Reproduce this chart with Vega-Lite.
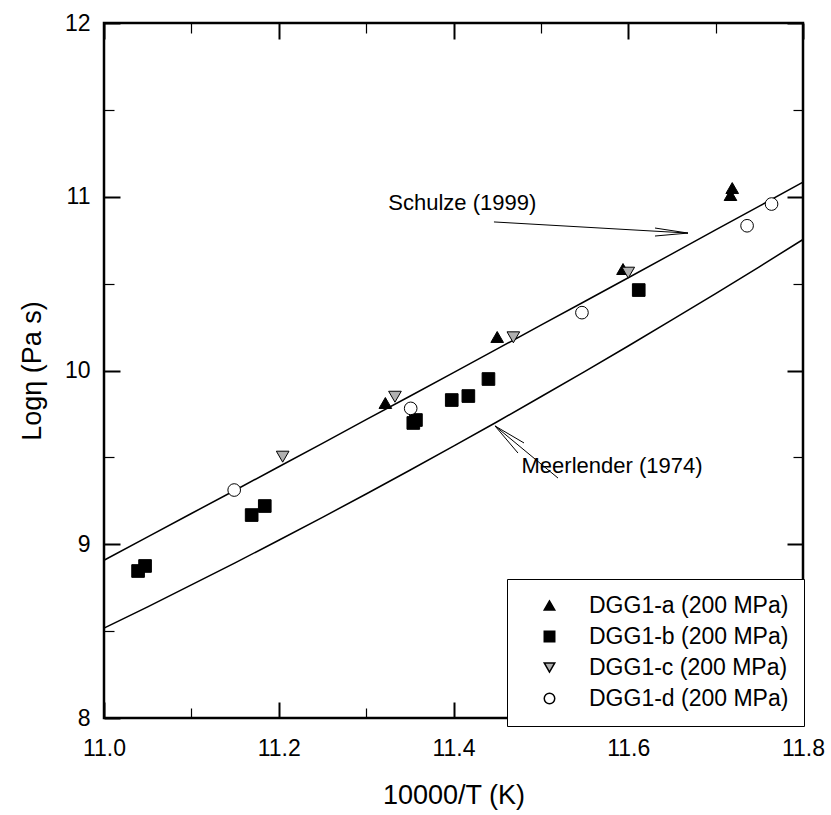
{
  "$schema": "https://vega.github.io/schema/vega-lite/v6.json",
  "width": 699,
  "height": 695,
  "autosize": {"type": "none"},
  "padding": {"left": 104, "top": 23, "right": 28, "bottom": 97},
  "background": "white",
  "config": {
    "view": {"stroke": "black", "strokeWidth": 2.5},
    "font": "Liberation Sans",
    "axis": {
      "grid": false,
      "domain": false,
      "tickColor": "black",
      "labelColor": "black",
      "titleColor": "black",
      "labelFont": "Liberation Sans",
      "titleFont": "Liberation Sans",
      "labelFontSize": 23,
      "titleFontSize": 27,
      "titleFontWeight": "normal",
      "labelFlush": false,
      "labelOverlap": false
    },
    "legend": {
      "orient": "none",
      "legendX": 403,
      "legendY": 556,
      "strokeColor": "black",
      "fillColor": "white",
      "padding": 15,
      "symbolOffset": 16,
      "labelOffset": 28,
      "labelFont": "Liberation Sans",
      "labelFontSize": 23,
      "labelColor": "black",
      "labelLimit": 400,
      "rowPadding": 7,
      "symbolSize": 110
    }
  },
  "datasets": {
    "curves": [
      {"x": 11.0, "y": 8.908, "curve": "Schulze"},
      {"x": 11.05, "y": 9.042, "curve": "Schulze"},
      {"x": 11.1, "y": 9.177, "curve": "Schulze"},
      {"x": 11.15, "y": 9.311, "curve": "Schulze"},
      {"x": 11.2, "y": 9.446, "curve": "Schulze"},
      {"x": 11.25, "y": 9.581, "curve": "Schulze"},
      {"x": 11.3, "y": 9.717, "curve": "Schulze"},
      {"x": 11.35, "y": 9.852, "curve": "Schulze"},
      {"x": 11.4, "y": 9.988, "curve": "Schulze"},
      {"x": 11.45, "y": 10.124, "curve": "Schulze"},
      {"x": 11.5, "y": 10.261, "curve": "Schulze"},
      {"x": 11.55, "y": 10.397, "curve": "Schulze"},
      {"x": 11.6, "y": 10.534, "curve": "Schulze"},
      {"x": 11.65, "y": 10.671, "curve": "Schulze"},
      {"x": 11.7, "y": 10.809, "curve": "Schulze"},
      {"x": 11.75, "y": 10.946, "curve": "Schulze"},
      {"x": 11.8, "y": 11.084, "curve": "Schulze"},
      {"x": 11.0, "y": 8.517, "curve": "Meerlender"},
      {"x": 11.05, "y": 8.640, "curve": "Meerlender"},
      {"x": 11.1, "y": 8.766, "curve": "Meerlender"},
      {"x": 11.15, "y": 8.893, "curve": "Meerlender"},
      {"x": 11.2, "y": 9.023, "curve": "Meerlender"},
      {"x": 11.25, "y": 9.155, "curve": "Meerlender"},
      {"x": 11.3, "y": 9.289, "curve": "Meerlender"},
      {"x": 11.35, "y": 9.426, "curve": "Meerlender"},
      {"x": 11.4, "y": 9.565, "curve": "Meerlender"},
      {"x": 11.45, "y": 9.705, "curve": "Meerlender"},
      {"x": 11.5, "y": 9.849, "curve": "Meerlender"},
      {"x": 11.55, "y": 9.994, "curve": "Meerlender"},
      {"x": 11.6, "y": 10.141, "curve": "Meerlender"},
      {"x": 11.65, "y": 10.291, "curve": "Meerlender"},
      {"x": 11.7, "y": 10.443, "curve": "Meerlender"},
      {"x": 11.75, "y": 10.597, "curve": "Meerlender"},
      {"x": 11.8, "y": 10.754, "curve": "Meerlender"}
    ],
    "points": [
      {"x": 11.322, "y": 9.813, "series": "DGG1-a (200 MPa)"},
      {"x": 11.450, "y": 10.193, "series": "DGG1-a (200 MPa)"},
      {"x": 11.594, "y": 10.584, "series": "DGG1-a (200 MPa)"},
      {"x": 11.717, "y": 11.01, "series": "DGG1-a (200 MPa)"},
      {"x": 11.719, "y": 11.05, "series": "DGG1-a (200 MPa)"},
      {"x": 11.039, "y": 8.846, "series": "DGG1-b (200 MPa)"},
      {"x": 11.047, "y": 8.875, "series": "DGG1-b (200 MPa)"},
      {"x": 11.169, "y": 9.168, "series": "DGG1-b (200 MPa)"},
      {"x": 11.184, "y": 9.220, "series": "DGG1-b (200 MPa)"},
      {"x": 11.354, "y": 9.698, "series": "DGG1-b (200 MPa)"},
      {"x": 11.357, "y": 9.715, "series": "DGG1-b (200 MPa)"},
      {"x": 11.398, "y": 9.830, "series": "DGG1-b (200 MPa)"},
      {"x": 11.417, "y": 9.853, "series": "DGG1-b (200 MPa)"},
      {"x": 11.440, "y": 9.951, "series": "DGG1-b (200 MPa)"},
      {"x": 11.612, "y": 10.463, "series": "DGG1-b (200 MPa)"},
      {"x": 11.2045, "y": 9.504, "series": "DGG1-c (200 MPa)"},
      {"x": 11.333, "y": 9.849, "series": "DGG1-c (200 MPa)"},
      {"x": 11.4685, "y": 10.191, "series": "DGG1-c (200 MPa)"},
      {"x": 11.600, "y": 10.563, "series": "DGG1-c (200 MPa)"},
      {"x": 11.149, "y": 9.312, "series": "DGG1-d (200 MPa)"},
      {"x": 11.351, "y": 9.782, "series": "DGG1-d (200 MPa)"},
      {"x": 11.547, "y": 10.333, "series": "DGG1-d (200 MPa)"},
      {"x": 11.736, "y": 10.833, "series": "DGG1-d (200 MPa)"},
      {"x": 11.764, "y": 10.958, "series": "DGG1-d (200 MPa)"}
    ],
    "arrows": [
      {"x": 11.4463, "y": 10.855, "x2": 11.6684, "y2": 10.791},
      {"x": 11.6306, "y": 10.820, "x2": 11.6684, "y2": 10.791},
      {"x": 11.6306, "y": 10.774, "x2": 11.6684, "y2": 10.791},
      {"x": 11.5196, "y": 9.381, "x2": 11.4475, "y2": 9.681},
      {"x": 11.4807, "y": 9.583, "x2": 11.4475, "y2": 9.681},
      {"x": 11.4738, "y": 9.525, "x2": 11.4475, "y2": 9.681}
    ],
    "labels": [
      {"x": 11.410, "y": 10.964, "text": "Schulze (1999)"},
      {"x": 11.5814, "y": 9.450, "text": "Meerlender (1974)"}
    ]
  },
  "resolve": {"axis": {"x": "independent", "y": "independent"}},
  "layer": [
    {
      "data": {"name": "curves"},
      "mark": {"type": "line", "color": "black", "strokeWidth": 1.5},
      "encoding": {
        "x": {"field": "x", "type": "quantitative",
              "scale": {"domain": [11.0, 11.8], "nice": false, "zero": false},
              "axis": {"orient": "bottom", "values": [11.0, 11.2, 11.4, 11.6, 11.8], "format": ".1f",
                       "tickSize": -16, "tickWidth": 2, "labelPadding": 35,
                       "title": "10000/T (K)", "titlePadding": 22}},
        "y": {"field": "y", "type": "quantitative",
              "scale": {"domain": [8, 12], "nice": false, "zero": false},
              "axis": {"orient": "left", "values": [8, 9, 10, 11, 12], "format": "d",
                       "tickSize": -16, "tickWidth": 2, "labelPadding": 30,
                       "title": "Logη (Pa s)", "titlePadding": 18}},
        "detail": {"field": "curve"}
      }
    },
    {
      "data": {"name": "arrows"},
      "mark": {"type": "rule", "color": "black", "strokeWidth": 1},
      "encoding": {
        "x": {"field": "x", "type": "quantitative",
              "axis": {"orient": "bottom", "values": [11.1, 11.3, 11.5, 11.7], "labels": false,
                       "tickSize": -10, "tickWidth": 1.2, "title": null}},
        "y": {"field": "y", "type": "quantitative",
              "axis": {"orient": "left", "values": [8.5, 9.5, 10.5, 11.5], "labels": false,
                       "tickSize": -10, "tickWidth": 1.2, "title": null}},
        "x2": {"field": "x2"},
        "y2": {"field": "y2"}
      }
    },
    {
      "data": {"name": "labels"},
      "mark": {"type": "text", "color": "black", "font": "Liberation Sans", "fontSize": 22, "align": "center", "baseline": "middle"},
      "encoding": {
        "x": {"field": "x", "type": "quantitative",
              "axis": {"orient": "top", "values": [11.0, 11.2, 11.4, 11.6, 11.8], "labels": false,
                       "tickSize": -16, "tickWidth": 2, "title": null}},
        "y": {"field": "y", "type": "quantitative",
              "axis": {"orient": "right", "values": [8, 9, 10, 11, 12], "labels": false,
                       "tickSize": -16, "tickWidth": 2, "title": null}},
        "text": {"field": "text"}
      }
    },
    {
      "data": {"name": "points"},
      "mark": {"type": "point", "filled": true, "stroke": "black", "strokeWidth": 1, "opacity": 1, "size": 160},
      "encoding": {
        "x": {"field": "x", "type": "quantitative",
              "axis": {"orient": "top", "values": [11.1, 11.3, 11.5, 11.7], "labels": false,
                       "tickSize": -10, "tickWidth": 1.2, "title": null}},
        "y": {"field": "y", "type": "quantitative",
              "axis": {"orient": "right", "values": [8.5, 9.5, 10.5, 11.5], "labels": false,
                       "tickSize": -10, "tickWidth": 1.2, "title": null}},
        "shape": {"field": "series", "type": "nominal",
                  "scale": {"domain": ["DGG1-a (200 MPa)", "DGG1-b (200 MPa)", "DGG1-c (200 MPa)", "DGG1-d (200 MPa)"],
                            "range": ["triangle-up", "square", "triangle-down", "circle"]},
                  "legend": {"title": null,
                             "encode": {"symbols": {"stroke": {"value": "black"}, "strokeWidth": {"value": 1}}}}},
        "fill": {"field": "series", "type": "nominal",
                 "scale": {"domain": ["DGG1-a (200 MPa)", "DGG1-b (200 MPa)", "DGG1-c (200 MPa)", "DGG1-d (200 MPa)"],
                           "range": ["black", "black", "#b0b0b0", "white"]},
                 "legend": {"title": null,
                            "encode": {"symbols": {"stroke": {"value": "black"}, "strokeWidth": {"value": 1}}}}}
      }
    }
  ]
}
